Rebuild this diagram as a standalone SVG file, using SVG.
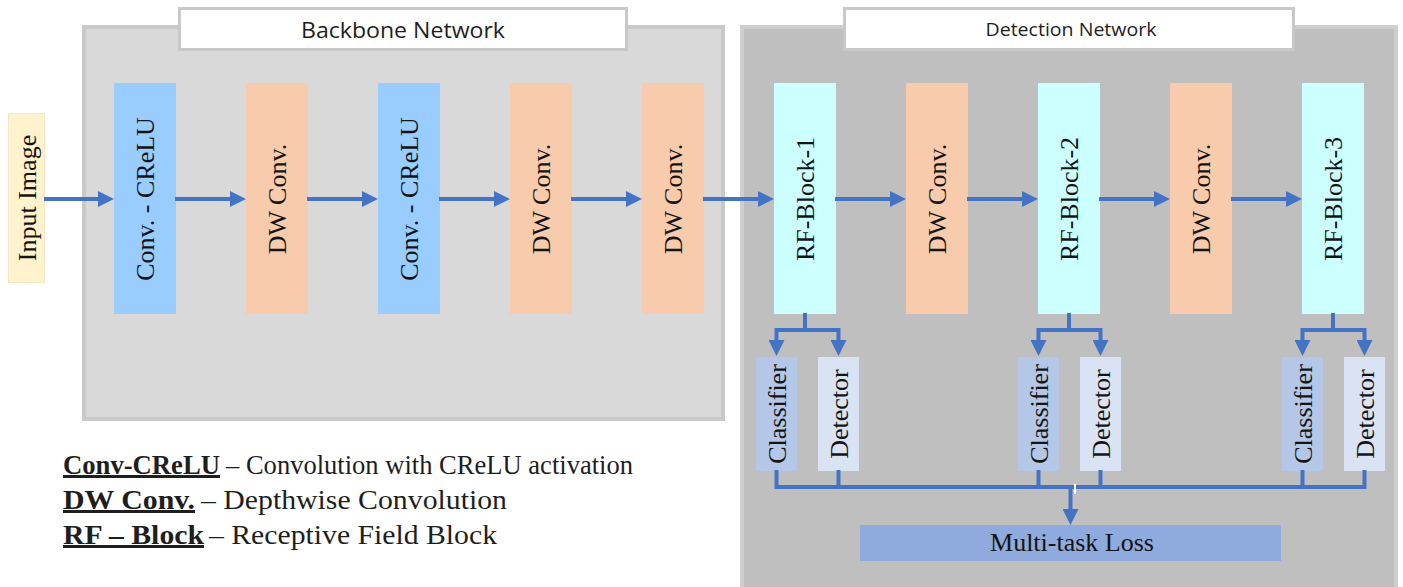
<svg xmlns="http://www.w3.org/2000/svg" width="1403" height="587" viewBox="0 0 1403 587">
  <style>
    .panel-bb { fill: #d9d9d9; stroke: #c9c9c9; stroke-width: 4; }
    .panel-det { fill: #bfbfbf; stroke: #cfcfcf; stroke-width: 4; }
    .title-box { fill: #ffffff; stroke: #c8c8c8; stroke-width: 3; }
    .title { font-family: "Open Sans", "Noto Sans", "DejaVu Sans", sans-serif; fill: #1e1e1e; text-anchor: middle; }
    .lbl { font-family: "Liberation Serif", "Times New Roman", serif; font-size: 26px; fill: #141414; text-anchor: middle; }
    .legend { font-family: "Liberation Serif", "Times New Roman", serif; font-size: 26.5px; fill: #1e1e1e; }
    .legend-b { font-weight: bold; }
    .ul { stroke: #1e1e1e; stroke-width: 3; }
    .conv { fill: #99ccff; }
    .dw { fill: #f8cbad; }
    .rf { fill: #ccffff; }
    .cls { fill: #b4c7e7; }
    .det { fill: #dae3f3; }
    .loss { fill: #8faadc; }
    .input { fill: #fff2cc; stroke: #f3e6c2; stroke-width: 1; }
    .conn { fill: none; stroke: #4472c4; stroke-width: 4; stroke-linejoin: miter; }
    .arr { marker-end: url(#ah); }
  </style>
  <defs>
    <marker id="ah" markerUnits="userSpaceOnUse" markerWidth="16" markerHeight="16" refX="2" refY="8" orient="auto">
      <path d="M0,0 L16,8 L0,16 Z" fill="#4472c4"/>
    </marker>
  </defs>

  <!-- Panels -->
  <g id="backbone-panel">
    <rect class="panel-bb" x="84" y="27" width="639" height="392"/>
    <rect class="title-box" x="179.5" y="8.5" width="447" height="41"/>
    <text class="title" x="403" y="37.5" font-size="22" textLength="204" lengthAdjust="spacingAndGlyphs">Backbone Network</text>
  </g>
  <g id="detection-panel">
    <rect class="panel-det" x="742" y="27" width="654" height="580"/>
    <rect class="title-box" x="844.5" y="8.5" width="449" height="41"/>
    <text class="title" x="1071" y="36" font-size="19" textLength="171" lengthAdjust="spacingAndGlyphs">Detection Network</text>
  </g>

  <!-- Nodes -->
  <g id="input-image">
    <rect class="input" x="8.5" y="113.5" width="36" height="169"/>
    <text class="lbl" transform="translate(26.5,198) rotate(-90)" x="0" y="9">Input Image</text>
  </g>
  <g id="conv-crelu-1">
    <rect class="conv" x="114" y="83" width="62" height="231"/>
    <text class="lbl" transform="translate(145,199) rotate(-90)" x="0" y="9">Conv. - CReLU</text>
  </g>
  <g id="dw-conv-1">
    <rect class="dw" x="246" y="83" width="62" height="231"/>
    <text class="lbl" transform="translate(277,199) rotate(-90)" x="0" y="9">DW Conv.</text>
  </g>
  <g id="conv-crelu-2">
    <rect class="conv" x="378" y="83" width="62" height="231"/>
    <text class="lbl" transform="translate(409,199) rotate(-90)" x="0" y="9">Conv. - CReLU</text>
  </g>
  <g id="dw-conv-2">
    <rect class="dw" x="510" y="83" width="62" height="231"/>
    <text class="lbl" transform="translate(541,199) rotate(-90)" x="0" y="9">DW Conv.</text>
  </g>
  <g id="dw-conv-3">
    <rect class="dw" x="642" y="83" width="62" height="231"/>
    <text class="lbl" transform="translate(673,199) rotate(-90)" x="0" y="9">DW Conv.</text>
  </g>
  <g id="rf-block-1">
    <rect class="rf" x="774" y="83" width="62" height="231"/>
    <text class="lbl" transform="translate(805,199) rotate(-90)" x="0" y="9">RF-Block-1</text>
  </g>
  <g id="dw-conv-4">
    <rect class="dw" x="906" y="83" width="62" height="231"/>
    <text class="lbl" transform="translate(937,199) rotate(-90)" x="0" y="9">DW Conv.</text>
  </g>
  <g id="rf-block-2">
    <rect class="rf" x="1038" y="83" width="62" height="231"/>
    <text class="lbl" transform="translate(1069,199) rotate(-90)" x="0" y="9">RF-Block-2</text>
  </g>
  <g id="dw-conv-5">
    <rect class="dw" x="1170" y="83" width="62" height="231"/>
    <text class="lbl" transform="translate(1201,199) rotate(-90)" x="0" y="9">DW Conv.</text>
  </g>
  <g id="rf-block-3">
    <rect class="rf" x="1302" y="83" width="62" height="231"/>
    <text class="lbl" transform="translate(1333,199) rotate(-90)" x="0" y="9">RF-Block-3</text>
  </g>

  <g id="classifier-1">
    <rect class="cls" x="756" y="357" width="41" height="114"/>
    <text class="lbl" transform="translate(776.5,414) rotate(-90)" x="0" y="9.5">Classifier</text>
  </g>
  <g id="detector-1">
    <rect class="det" x="818" y="357" width="41" height="114"/>
    <text class="lbl" transform="translate(838.5,414) rotate(-90)" x="0" y="9.5">Detector</text>
  </g>
  <g id="classifier-2">
    <rect class="cls" x="1018" y="357" width="41" height="114"/>
    <text class="lbl" transform="translate(1038.5,414) rotate(-90)" x="0" y="9.5">Classifier</text>
  </g>
  <g id="detector-2">
    <rect class="det" x="1080" y="357" width="41" height="114"/>
    <text class="lbl" transform="translate(1100.5,414) rotate(-90)" x="0" y="9.5">Detector</text>
  </g>
  <g id="classifier-3">
    <rect class="cls" x="1282" y="357" width="41" height="114"/>
    <text class="lbl" transform="translate(1302.5,414) rotate(-90)" x="0" y="9.5">Classifier</text>
  </g>
  <g id="detector-3">
    <rect class="det" x="1344" y="357" width="41" height="114"/>
    <text class="lbl" transform="translate(1364.5,414) rotate(-90)" x="0" y="9.5">Detector</text>
  </g>

  <g id="multi-task-loss">
    <rect class="loss" x="860" y="525" width="421" height="36"/>
    <text class="lbl" x="1072" y="551" font-size="26.5">Multi-task Loss</text>
  </g>

  <!-- Connectors -->
  <g id="connectors">
    <line class="conn arr" x1="44" y1="199" x2="100" y2="199"/>
    <line class="conn arr" x1="175" y1="199" x2="232" y2="199"/>
    <line class="conn arr" x1="307" y1="199" x2="364" y2="199"/>
    <line class="conn arr" x1="439" y1="199" x2="496" y2="199"/>
    <line class="conn arr" x1="571" y1="199" x2="628" y2="199"/>
    <line class="conn arr" x1="703" y1="199" x2="760" y2="199"/>
    <line class="conn arr" x1="835" y1="199" x2="892" y2="199"/>
    <line class="conn arr" x1="967" y1="199" x2="1024" y2="199"/>
    <line class="conn arr" x1="1099" y1="199" x2="1156" y2="199"/>
    <line class="conn arr" x1="1231" y1="199" x2="1288" y2="199"/>

    <path class="conn arr" d="M805,313 V330 H776.5 V342"/>
    <path class="conn arr" d="M805,330 H838.5 V342"/>
    <path class="conn arr" d="M1069,313 V330 H1038.5 V342"/>
    <path class="conn arr" d="M1069,330 H1100.5 V342"/>
    <path class="conn arr" d="M1333,313 V330 H1302.5 V342"/>
    <path class="conn arr" d="M1333,330 H1364.5 V342"/>

    <path class="conn" d="M776.5,470 V487 H1364.5 V470"/>
    <path class="conn" d="M838.5,470 V487"/>
    <path class="conn" d="M1038.5,470 V487"/>
    <path class="conn" d="M1100.5,470 V487"/>
    <path class="conn" d="M1302.5,470 V487"/>
    <path class="conn arr" d="M1070.5,487 V511"/>
    <rect x="1074" y="484" width="2" height="10" fill="#ffffff"/>
  </g>

  <!-- Legend -->
  <g id="legend">
    <text class="legend legend-b" x="63" y="473.5" textLength="157" lengthAdjust="spacingAndGlyphs">Conv-CReLU</text>
    <text class="legend" x="226" y="473.5" textLength="407" lengthAdjust="spacingAndGlyphs">– Convolution with CReLU activation</text>
    <line class="ul" x1="63" y1="476.5" x2="220" y2="476.5"/>

    <text class="legend legend-b" x="63" y="508.5" textLength="132" lengthAdjust="spacingAndGlyphs">DW Conv.</text>
    <text class="legend" x="201" y="508.5" textLength="306" lengthAdjust="spacingAndGlyphs">– Depthwise Convolution</text>
    <line class="ul" x1="63" y1="511.5" x2="195" y2="511.5"/>

    <text class="legend legend-b" x="63" y="543.5" textLength="141" lengthAdjust="spacingAndGlyphs">RF – Block</text>
    <text class="legend" x="209" y="543.5" textLength="288" lengthAdjust="spacingAndGlyphs">– Receptive Field Block</text>
    <line class="ul" x1="63" y1="546.5" x2="204" y2="546.5"/>
  </g>
</svg>
